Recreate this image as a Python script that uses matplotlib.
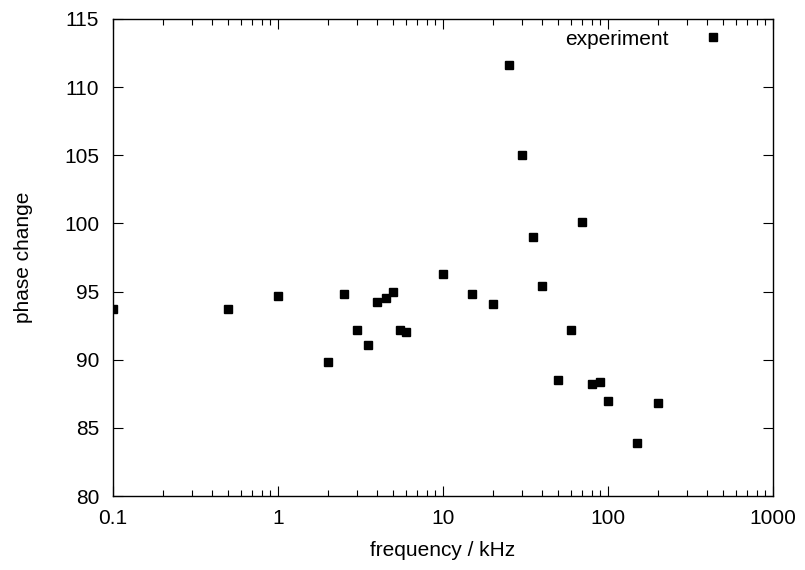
import matplotlib
matplotlib.use("Agg")
import matplotlib.pyplot as plt
from matplotlib.ticker import LogLocator, FixedLocator, FuncFormatter

plt.rcParams["font.family"] = ["Liberation Sans", "DejaVu Sans"]

# measured phase change vs frequency
frequency = [0.1, 0.5, 1, 2, 2.5, 3, 3.5, 4, 4.5, 5, 5.5, 6,
             10, 15, 20, 25, 30, 35, 40, 50, 60, 70, 80, 90, 100, 150, 200]
phase = [93.7, 93.7, 94.7, 89.8, 94.8, 92.2, 91.1, 94.2, 94.5, 95.0, 92.2, 92.0,
         96.3, 94.8, 94.1, 111.6, 105.0, 99.0, 95.4, 88.5, 92.2, 100.1, 88.2, 88.4, 87.0, 83.9, 86.8]

yticks = [80, 85, 90, 95, 100, 105, 110, 115]

fig = plt.figure(figsize=(8.05, 5.7), dpi=100)
ax = fig.add_axes([0.1404, 0.1298, 0.8198, 0.8369])

ax.plot(frequency, phase, "s", color="black", markersize=5.8, linestyle="none",
        label="experiment")

ax.set_xscale("log")
ax.set_xlim(0.1, 1000)
ax.set_ylim(80, 115)
ax.xaxis.set_major_locator(LogLocator(base=10))
ax.xaxis.set_minor_locator(LogLocator(base=10, subs=range(2, 10)))
ax.xaxis.set_major_formatter(FuncFormatter(lambda v, p: f"{v:g}"))
ax.yaxis.set_major_locator(FixedLocator(yticks))

ax.tick_params(which="both", direction="in", top=True, right=True,
               labelsize=15, width=0.8)
ax.tick_params(axis="y", pad=10)
ax.tick_params(axis="x", pad=9)
ax.tick_params(which="major", length=7)
ax.tick_params(which="minor", length=4)
for s in ax.spines.values():
    s.set_linewidth(1.0)

ax.set_xlabel("frequency / kHz", fontsize=15, labelpad=10)
ax.set_ylabel("phase change", fontsize=15, labelpad=22)

ax.legend(loc="upper right", bbox_to_anchor=(0.938, 0.995), frameon=False,
          markerfirst=False, fontsize=15, handlelength=1.0, handletextpad=1.63,
          borderaxespad=0.0)

fig.savefig("out.png", dpi=100)
